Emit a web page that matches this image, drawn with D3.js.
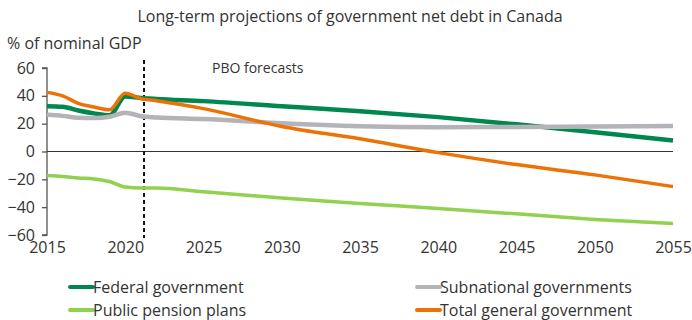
<!DOCTYPE html>
<html>
<head>
<meta charset="utf-8">
<script src="https://cdn.jsdelivr.net/npm/d3@7"></script>
<style>
  body { margin: 0; background: #fff; }
  text { font-family: "Open Sans", "Noto Sans", sans-serif; fill: #333; }
</style>
</head>
<body>
<div id="chart"></div>
<script>
// data, % of nominal GDP
var years = [2015, 2016, 2017, 2018, 2019, 2020, 2021, 2022, 2025, 2030, 2035, 2040, 2045, 2050, 2055];
var federal     = [32.6, 32.2, 29.5, 27.4, 26.0, 39.5, 38.5, 37.8, 36.2, 32.6, 29.0, 24.7, 19.5, 13.9, 7.9];
var subnational = [26.4, 25.6, 24.3, 24.0, 25.0, 27.9, 25.4, 24.5, 23.4, 20.3, 18.2, 17.5, 17.6, 17.9, 18.3];
var pension     = [-17.3, -18.0, -19.0, -19.7, -21.6, -25.5, -26.3, -26.2, -29.0, -33.4, -37.3, -41.0, -44.8, -48.8, -51.8];
var total       = [42.5, 40.0, 34.6, 32.0, 30.0, 41.8, 38.0, 36.5, 30.8, 18.0, 9.1, -0.8, -9.4, -16.8, -25.2];

var yTicks = [60, 40, 20, 0, -20, -40, -60];
var xTicks = [2015, 2020, 2025, 2030, 2035, 2040, 2045, 2050, 2055];
var forecastStart = 2021.2;

var series = [
  {name: "Federal government", values: federal, color: "#00874e", width: 4.5},
  {name: "Subnational governments", values: subnational, color: "#b3b3b8", width: 4.5},
  {name: "Public pension plans", values: pension, color: "#92d050", width: 3.5},
  {name: "Total general government", values: total, color: "#ec7205", width: 3.5}
];

var width = 692, height = 320;
var svg = d3.select("#chart").append("svg")
    .attr("width", width)
    .attr("height", height);

var x = d3.scaleLinear().domain([2015, 2055]).range([47, 673]);
var y = d3.scaleLinear().domain([-60, 60]).range([235, 68]);

// title and unit
svg.append("text")
    .attr("x", 350).attr("y", 22)
    .attr("text-anchor", "middle")
    .style("font-size", "16px")
    .text("Long-term projections of government net debt in Canada");

svg.append("text")
    .attr("x", 7).attr("y", 49)
    .style("font-size", "16px")
    .text("% of nominal GDP");

// y axis
var yAxis = d3.axisLeft(y).tickValues(yTicks).tickSize(5).tickPadding(7);
var gy = svg.append("g").attr("transform", "translate(47,0)").call(yAxis);
gy.select(".domain").attr("stroke", "#555").attr("stroke-width", 1.3).attr("d", "M-5," + y(60) + "H0V" + y(-60) + "H-5");
gy.selectAll(".tick line").attr("stroke", "#555").attr("stroke-width", 1.3);
gy.selectAll("text").style("font-size", "16px").attr("fill", "#333").style("font-family", "'Open Sans', 'Noto Sans', sans-serif");

// zero line
svg.append("line")
    .attr("x1", x(2015)).attr("x2", x(2055))
    .attr("y1", y(0)).attr("y2", y(0))
    .attr("stroke", "#333").attr("stroke-width", 1.2);

// x labels
var xAxis = d3.axisBottom(x).tickValues(xTicks).tickFormat(d3.format("d")).tickSize(0).tickPadding(7);
var gx = svg.append("g").attr("transform", "translate(0," + y(-60) + ")").call(xAxis);
gx.select(".domain").remove();
gx.selectAll("text").style("font-size", "16px").attr("fill", "#333").style("font-family", "'Open Sans', 'Noto Sans', sans-serif");

// forecast marker
svg.append("line")
    .attr("x1", x(forecastStart)).attr("x2", x(forecastStart))
    .attr("y1", 60).attr("y2", 238)
    .attr("stroke", "#111").attr("stroke-width", 2)
    .attr("stroke-dasharray", "4,3");

svg.append("text")
    .attr("x", 212).attr("y", 73)
    .style("font-size", "14px")
    .text("PBO forecasts");

// lines
var line = d3.line()
    .x(function(d, i) { return x(years[i]); })
    .y(function(d) { return y(d); })
    .curve(d3.curveMonotoneX);

svg.selectAll(".series")
    .data(series)
    .enter()
    .append("path")
    .attr("class", "series")
    .attr("fill", "none")
    .attr("stroke", function(d) { return d.color; })
    .attr("stroke-width", function(d) { return d.width; })
    .attr("stroke-linejoin", "round")
    .attr("d", function(d) { return line(d.values); });

// legend
var legendPos = [[70, 287], [417, 287], [70, 310], [417, 310]];
var legend = svg.selectAll(".legend")
    .data(series)
    .enter()
    .append("g")
    .attr("class", "legend")
    .attr("transform", function(d, i) { return "translate(" + legendPos[i][0] + "," + legendPos[i][1] + ")"; });

legend.append("line")
    .attr("x1", 0).attr("x2", 23)
    .attr("stroke", function(d) { return d.color; })
    .attr("stroke-width", 4)
    .attr("stroke-linecap", "round");

legend.append("text")
    .attr("x", 23).attr("y", 5.5)
    .style("font-size", "16px")
    .text(function(d) { return d.name; });
</script>
</body>
</html>
